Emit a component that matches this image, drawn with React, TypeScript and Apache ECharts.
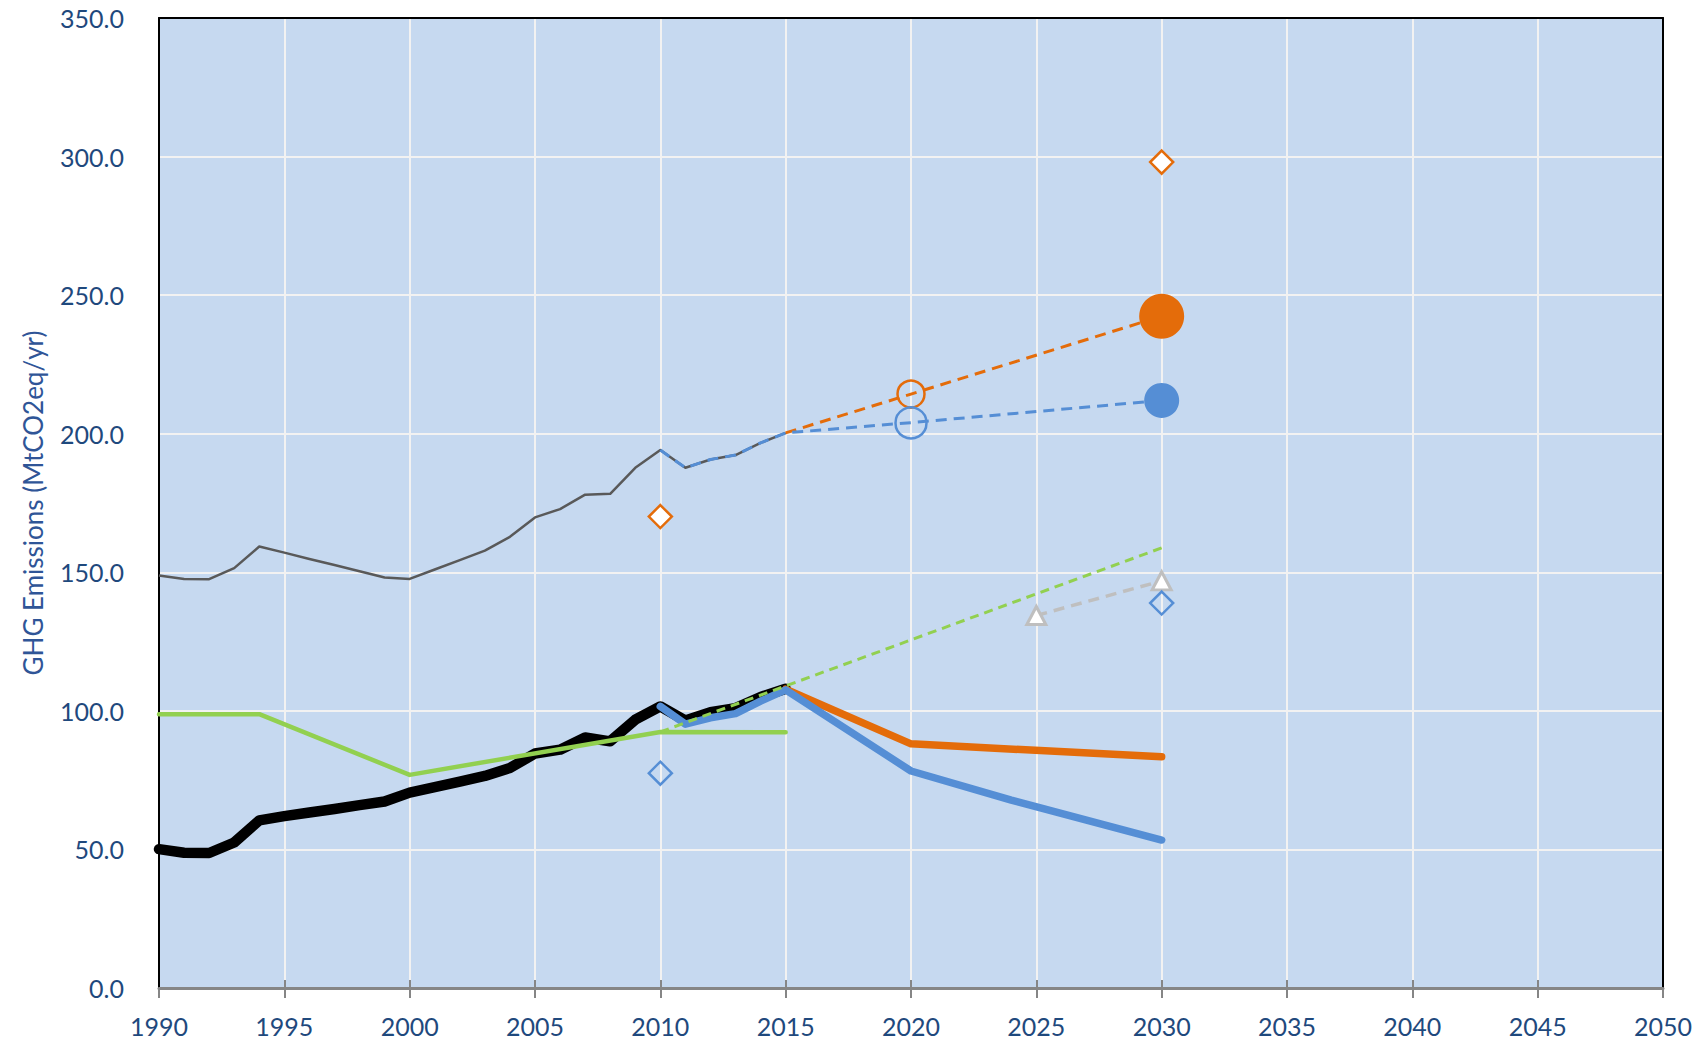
import React, { useEffect, useRef } from "react";
import * as echarts from "echarts";

// ---- data ----
const histYears = [1990, 1991, 1992, 1993, 1994, 1995, 1996, 1997, 1998, 1999, 2000, 2001, 2002, 2003, 2004, 2005, 2006, 2007, 2008, 2009, 2010, 2011, 2012, 2013, 2014, 2015];
const totalEmissions = [148.8, 147.6, 147.5, 151.5, 159.3, 157.1, 154.8, 152.6, 150.4, 148.1, 147.6, 151.0, 154.4, 157.8, 162.8, 169.8, 172.8, 178.0, 178.3, 187.7, 194.1, 187.7, 190.7, 192.3, 196.7, 200.3];
const sectorEmissions = [50.1, 48.8, 48.7, 52.5, 60.5, 62.0, 63.3, 64.6, 66.0, 67.3, 70.5, 72.5, 74.5, 76.5, 79.4, 84.6, 86.0, 90.4, 89.0, 96.8, 101.6, 96.5, 99.5, 101.0, 105.0, 108.0];

const greenYears = [1990, 1994, 2000, 2010, 2015];
const greenValues = [98.8, 98.8, 76.9, 92.4, 92.3];

const blueYears = [2010, 2011, 2012, 2013, 2014, 2015, 2020, 2024, 2030];
const blueValues = [101.6, 95.2, 97.5, 99.0, 103.5, 107.6, 78.3, 67.8, 53.4];

const orangeYears = [2015, 2020, 2030];
const orangeValues = [107.8, 88.1, 83.4];

const greenTrendYears = [2010, 2030];
const greenTrendValues = [92.4, 158.8];

const orangeDashYears = [2015, 2020, 2030];
const orangeDashValues = [200.3, 214.3, 242.4];

const blueDashYears = [2010, 2011, 2012, 2013, 2014, 2015, 2020, 2030];
const blueDashValues = [194.1, 187.7, 190.7, 192.3, 196.7, 200.3, 204.0, 212.0];

const greyDashYears = [2025, 2030];
const greyDashValues = [134.4, 146.9];

const orangeDiamondYears = [2010, 2030];
const orangeDiamondValues = [170.1, 298.0];
const blueDiamondYears = [2010, 2030];
const blueDiamondValues = [77.5, 138.9];

const orangeOpenCircle = [2020, 214.3];
const blueOpenCircle = [2020, 203.9];
const orangeDot = [2030, 242.4];
const blueDot = [2030, 212.0];

const xMin = 1990;
const xMax = 2050;
const xStep = 5;
const yMin = 0;
const yMax = 350;
const yStep = 50;
const yTitle = "GHG Emissions (MtCO2eq/yr)";

const pairs = (xs: number[], ys: number[]) => xs.map((x, i) => [x, ys[i]]);

const FONT = 'Lato, "Open Sans", "DejaVu Sans", sans-serif';
const ORANGE = "#E46C0A";
const BLUE = "#558ED5";
const GREEN = "#92D050";
const GREY_DASH = "#BFBFBF";
const AXIS_GREY = "#868686";
const GRID_WHITE = "#F2F2F2";

export default function App() {
  const ref = useRef<HTMLDivElement | null>(null);

  useEffect(() => {
    document.body.style.margin = "0";
    if (!ref.current) return;
    const chart = echarts.init(ref.current, undefined, { renderer: "svg" });

    const lineBase = { type: "line" as const, symbol: "none", silent: true, z: 5 };
    const scatterBase = { type: "scatter" as const, silent: true, z: 6 };

    const option: any = {
      animation: false,
      backgroundColor: "#FFFFFF",
      grid: {
        left: 159,
        top: 18,
        right: 26,
        bottom: 45,
        show: true,
        backgroundColor: "#C6D9F0",
        borderWidth: 0,
      },
      xAxis: [
        {
          // main bottom axis: grey line, outward ticks, labels
          type: "value",
          min: xMin,
          max: xMax,
          interval: xStep,
          axisLine: { show: true, onZero: false, lineStyle: { color: AXIS_GREY, width: 3 } },
          axisTick: { show: true, inside: false, length: 10, lineStyle: { color: AXIS_GREY, width: 2 } },
          axisLabel: {
            show: true,
            margin: 25,
            color: "#1F497D",
            fontSize: 25,
            fontFamily: FONT,
            formatter: (v: number) => String(v),
          },
          splitLine: { show: false },
          z: 3,
        },
        {
          // inward ticks + vertical gridlines
          type: "value",
          min: xMin,
          max: xMax,
          interval: xStep,
          position: "bottom",
          axisLine: { show: false },
          axisTick: { show: true, inside: true, length: 8, lineStyle: { color: AXIS_GREY, width: 2 } },
          axisLabel: { show: false },
          splitLine: { show: true, lineStyle: { color: GRID_WHITE, width: 2 } },
          z: 1,
        },
        {
          // black top border of plot area
          type: "value",
          min: xMin,
          max: xMax,
          interval: xStep,
          position: "top",
          axisLine: { show: true, onZero: false, lineStyle: { color: "#000000", width: 2 } },
          axisTick: { show: false },
          axisLabel: { show: false },
          splitLine: { show: false },
          z: 3,
        },
      ],
      yAxis: [
        {
          type: "value",
          min: yMin,
          max: yMax,
          interval: yStep,
          name: yTitle,
          nameLocation: "middle",
          nameRotate: 90,
          nameGap: 113,
          nameTextStyle: { color: "#2F5597", fontSize: 26, fontFamily: FONT },
          axisLine: { show: true, onZero: false, lineStyle: { color: "#000000", width: 2 } },
          axisTick: { show: false },
          axisLabel: {
            margin: 35,
            color: "#1F497D",
            fontSize: 25,
            fontFamily: FONT,
            formatter: (v: number) => v.toFixed(1),
          },
          splitLine: { show: true, lineStyle: { color: GRID_WHITE, width: 2 } },
          z: 2,
        },
        {
          // black right border of plot area
          type: "value",
          min: yMin,
          max: yMax,
          interval: yStep,
          position: "right",
          axisLine: { show: true, onZero: false, lineStyle: { color: "#000000", width: 2 } },
          axisTick: { show: false },
          axisLabel: { show: false },
          splitLine: { show: false },
          z: 3,
        },
      ],
      series: [
        {
          ...lineBase,
          name: "total",
          data: pairs(histYears, totalEmissions),
          lineStyle: { color: "#595959", width: 2.5, join: "round" },
        },
        {
          ...lineBase,
          name: "sector",
          data: pairs(histYears, sectorEmissions),
          lineStyle: { color: "#000000", width: 10.5, join: "round", cap: "round" },
        },
        {
          ...lineBase,
          name: "green",
          data: pairs(greenYears, greenValues),
          lineStyle: { color: GREEN, width: 4.5, join: "round", cap: "round" },
        },
        {
          ...lineBase,
          name: "orange",
          data: pairs(orangeYears, orangeValues),
          lineStyle: { color: ORANGE, width: 7.5, join: "round", cap: "round" },
        },
        {
          ...lineBase,
          name: "blue",
          data: pairs(blueYears, blueValues),
          lineStyle: { color: BLUE, width: 7.5, join: "round", cap: "round" },
        },
        {
          ...lineBase,
          name: "greenTrend",
          data: pairs(greenTrendYears, greenTrendValues),
          lineStyle: { color: GREEN, width: 3, type: [9, 6] },
        },
        {
          ...lineBase,
          name: "orangeDash",
          data: pairs(orangeDashYears, orangeDashValues),
          lineStyle: { color: ORANGE, width: 3, type: [11, 7] },
        },
        {
          ...lineBase,
          name: "blueDash",
          data: pairs(blueDashYears, blueDashValues),
          lineStyle: { color: BLUE, width: 3, type: [11, 7] },
        },
        {
          ...lineBase,
          name: "greyDash",
          data: pairs(greyDashYears, greyDashValues),
          lineStyle: { color: GREY_DASH, width: 3.5, type: [11, 7] },
        },
        {
          ...scatterBase,
          name: "greyTriangles",
          data: pairs(greyDashYears, greyDashValues),
          symbol: "triangle",
          symbolSize: [19, 18],
          itemStyle: { color: "#FFFFFF", borderColor: GREY_DASH, borderWidth: 3, opacity: 1 },
        },
        {
          ...scatterBase,
          name: "orangeDiamonds",
          data: pairs(orangeDiamondYears, orangeDiamondValues),
          symbol: "diamond",
          symbolSize: [23, 23],
          itemStyle: { color: "#FFFFFF", borderColor: ORANGE, borderWidth: 2.5, opacity: 1 },
        },
        {
          ...scatterBase,
          name: "blueDiamonds",
          data: pairs(blueDiamondYears, blueDiamondValues),
          symbol: "diamond",
          symbolSize: [23, 23],
          itemStyle: { color: "rgba(0,0,0,0)", borderColor: BLUE, borderWidth: 2.5, opacity: 1 },
        },
        {
          ...scatterBase,
          name: "orangeOpen",
          data: [orangeOpenCircle],
          symbol: "circle",
          symbolSize: 27,
          itemStyle: { color: "rgba(0,0,0,0)", borderColor: ORANGE, borderWidth: 2.5, opacity: 1 },
        },
        {
          ...scatterBase,
          name: "blueOpen",
          data: [blueOpenCircle],
          symbol: "circle",
          symbolSize: 31,
          itemStyle: { color: "rgba(0,0,0,0)", borderColor: BLUE, borderWidth: 2.5, opacity: 1 },
        },
        {
          ...scatterBase,
          name: "orangeDot",
          data: [orangeDot],
          symbol: "circle",
          symbolSize: 45,
          itemStyle: { color: ORANGE, opacity: 1 },
        },
        {
          ...scatterBase,
          name: "blueDot",
          data: [blueDot],
          symbol: "circle",
          symbolSize: 35,
          itemStyle: { color: BLUE, opacity: 1 },
        },
      ],
    };

    chart.setOption(option);
    return () => {
      chart.dispose();
    };
  }, []);

  return (
    <div
      ref={ref}
      style={{ position: "absolute", left: 0, top: 0, width: 1695, height: 1038 }}
    />
  );
}
